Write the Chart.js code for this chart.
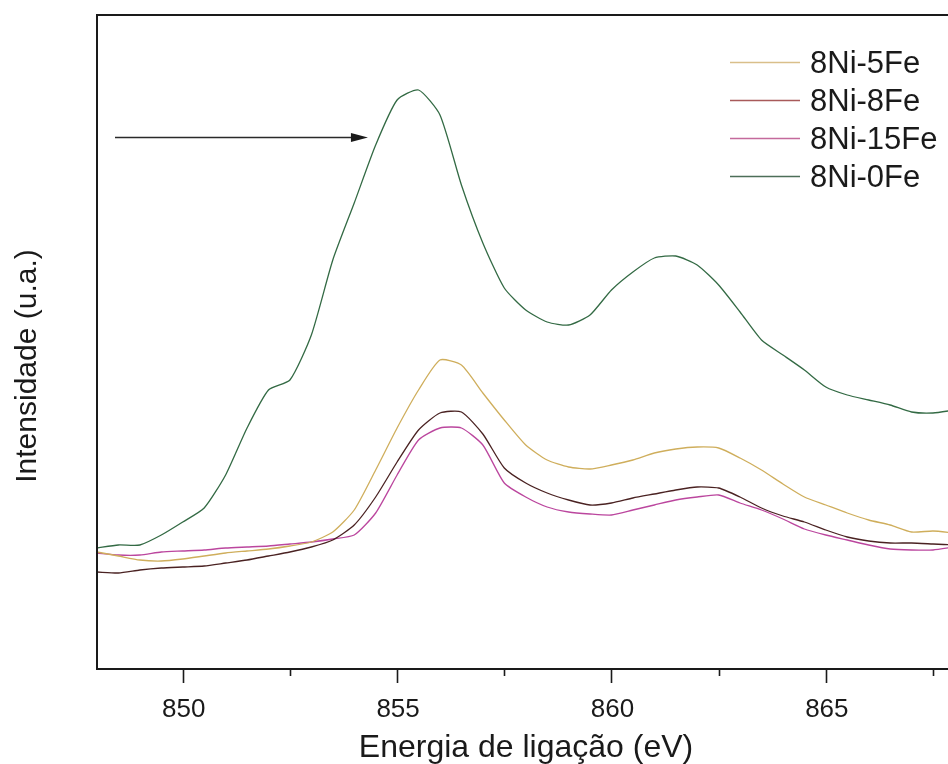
<!DOCTYPE html>
<html>
<head>
<meta charset="utf-8">
<script src="https://cdn.jsdelivr.net/npm/chart.js@4/dist/chart.umd.min.js"></script>
<style>
  html, body { margin: 0; padding: 0; background: #ffffff; }
  #wrap { width: 948px; height: 764px; position: relative; }
</style>
</head>
<body>
<div id="wrap"><canvas id="c" width="948" height="764"></canvas></div>
<script>
// Binding energy grid (eV)
const energy = [
  848.0, 848.5, 849.0, 849.5, 850.0, 850.5, 851.0, 851.5, 852.0, 852.5,
  853.0, 853.5, 854.0, 854.5, 855.0, 855.5, 856.0, 856.5, 857.0, 857.5,
  858.0, 858.5, 859.0, 859.5, 860.0, 860.5, 861.0, 861.5, 862.0, 862.5,
  863.0, 863.5, 864.0, 864.5, 865.0, 865.5, 866.0, 866.5, 867.0, 867.5, 868.0
];

// Intensity (arbitrary units)
const ni8fe5 = [
  117, 113, 109, 108, 110, 113, 116, 118, 120, 123,
  127, 137, 159, 199, 241, 279, 309, 304, 276, 249,
  224, 209, 202, 200, 204, 209, 216, 220, 222, 221,
  211, 199, 185, 172, 164, 156, 149, 144, 137, 138, 136
];
const ni8fe8 = [
  97, 96, 99, 101, 102, 103, 106, 109, 113, 117,
  122, 129, 144, 172, 207, 239, 256, 257, 235, 201,
  186, 176, 169, 164, 166, 171, 175, 179, 182, 181,
  172, 161, 153, 147, 139, 132, 128, 126, 126, 125, 124
];
const ni8fe15 = [
  116, 114, 114, 117, 118, 119, 121, 122, 123, 125,
  127, 130, 134, 156, 194, 229, 241, 241, 224, 186,
  172, 162, 157, 155, 154, 159, 164, 169, 172, 174,
  166, 159, 150, 140, 134, 129, 124, 120, 119, 119, 122
];
const ni8fe0 = [
  121, 124, 124, 134, 147, 161, 194, 241, 279, 289,
  334, 409, 466, 524, 569, 579, 554, 484, 426, 381,
  359, 347, 344, 354, 379, 397, 411, 413, 404, 384,
  357, 329, 314, 299, 282, 274, 269, 264, 257, 256, 259
];

const seriesNames = ['8Ni-5Fe', '8Ni-8Fe', '8Ni-15Fe', '8Ni-0Fe'];
const seriesColors = ['#cfae5c', '#4a2222', '#bb469e', '#336a44'];
const legendColors = ['#d9bf8a', '#a85a5a', '#c46a9c', '#4d6e58'];
const seriesValues = [ni8fe5, ni8fe8, ni8fe15, ni8fe0];

const majorTicks = [850, 855, 860, 865];
const minorTicks = [852.5, 857.5, 862.5, 867.5];

const xMin = 848, xMax = 867.85;
const yMin = 0, yMax = 654;

const FONT = '"Liberation Sans", Arial, Helvetica, sans-serif';

const decorations = {
  id: 'decorations',
  afterDraw(chart) {
    const ctx = chart.ctx;
    const area = chart.chartArea;
    const xs = chart.scales.x;
    const ys = chart.scales.y;
    ctx.save();

    // frame (top, left, bottom)
    ctx.strokeStyle = '#1a1a1a';
    ctx.lineWidth = 2;
    ctx.beginPath();
    ctx.moveTo(area.right + 2, area.top);
    ctx.lineTo(area.left, area.top);
    ctx.lineTo(area.left, area.bottom);
    ctx.lineTo(area.right + 2, area.bottom);
    ctx.stroke();

    // tick marks
    ctx.lineWidth = 1.6;
    majorTicks.forEach(v => {
      const px = Math.round(xs.getPixelForValue(v)) + 0.5;
      ctx.beginPath(); ctx.moveTo(px, area.bottom); ctx.lineTo(px, area.bottom + 14); ctx.stroke();
    });
    minorTicks.forEach(v => {
      const px = Math.round(xs.getPixelForValue(v)) + 0.5;
      ctx.beginPath(); ctx.moveTo(px, area.bottom); ctx.lineTo(px, area.bottom + 7); ctx.stroke();
    });

    // tick labels
    ctx.fillStyle = '#1a1a1a';
    ctx.font = '26px ' + FONT;
    ctx.textAlign = 'center';
    ctx.textBaseline = 'alphabetic';
    majorTicks.forEach(v => {
      ctx.fillText(String(v), xs.getPixelForValue(v) + 1, area.bottom + 48);
    });

    // axis titles
    ctx.font = '32px ' + FONT;
    ctx.fillText('Energia de ligação (eV)', 526, 757);
    ctx.save();
    ctx.translate(36, 366);
    ctx.rotate(-Math.PI / 2);
    ctx.font = '30px ' + FONT;
    ctx.fillText('Intensidade (u.a.)', 0, 0);
    ctx.restore();

    // arrow pointing at the main peak
    const ax0 = xs.getPixelForValue(848.42), ax1 = xs.getPixelForValue(854.32);
    const ay = Math.round(ys.getPixelForValue(532)) + 0.5;
    ctx.strokeStyle = '#2a2a2a';
    ctx.fillStyle = '#1a1a1a';
    ctx.lineWidth = 1.4;
    ctx.beginPath(); ctx.moveTo(ax0, ay); ctx.lineTo(ax1 - 12, ay); ctx.stroke();
    ctx.beginPath();
    ctx.moveTo(ax1, ay);
    ctx.lineTo(ax1 - 17, ay - 4.5);
    ctx.lineTo(ax1 - 17, ay + 4.5);
    ctx.closePath();
    ctx.fill();

    // legend
    ctx.font = '31px ' + FONT;
    ctx.textAlign = 'left';
    ctx.textBaseline = 'alphabetic';
    const rows = [62, 100, 138, 176];
    seriesNames.forEach((name, i) => {
      ctx.strokeStyle = legendColors[i];
      ctx.lineWidth = 1.6;
      ctx.beginPath(); ctx.moveTo(730, rows[i] + 0.5); ctx.lineTo(800, rows[i] + 0.5); ctx.stroke();
      ctx.fillStyle = '#1a1a1a';
      ctx.fillText(name, 810, rows[i] + 11);
    });

    ctx.restore();
  }
};

const datasets = seriesNames.map((name, i) => ({
  label: name,
  data: energy.map((e, k) => ({ x: e, y: seriesValues[i][k] })),
  borderColor: seriesColors[i],
  borderWidth: 1.3,
  pointRadius: 0,
  tension: 0.2,
  fill: false
}));

new Chart(document.getElementById('c'), {
  type: 'line',
  data: { datasets },
  options: {
    responsive: false,
    animation: false,
    events: [],
    layout: { padding: { left: 97, top: 15, right: 0, bottom: 95 } },
    plugins: { legend: { display: false }, tooltip: { enabled: false } },
    scales: {
      x: { type: 'linear', min: xMin, max: xMax, display: false },
      y: { type: 'linear', min: yMin, max: yMax, display: false }
    }
  },
  plugins: [decorations]
});
</script>
</body>
</html>
